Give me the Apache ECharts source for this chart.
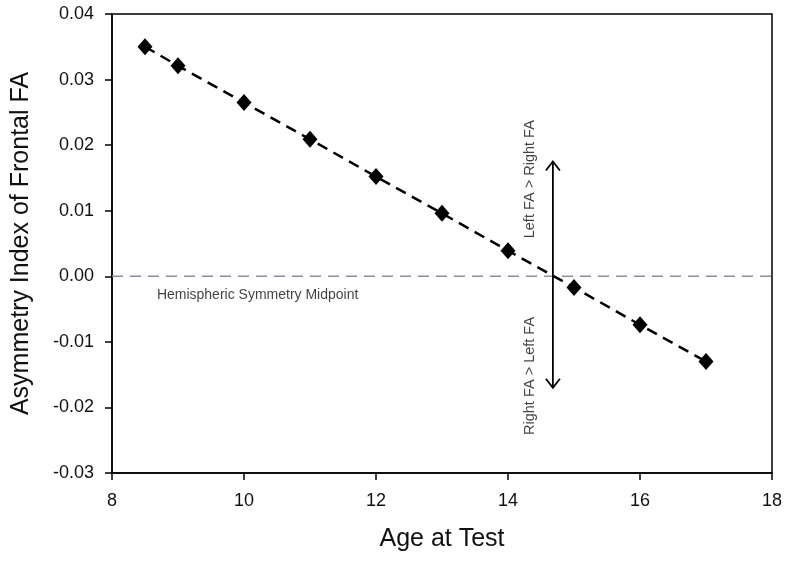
<!DOCTYPE html>
<html><head><meta charset="utf-8">
<script src="https://cdn.jsdelivr.net/npm/echarts@6/dist/echarts.min.js"></script>
<style>html,body{margin:0;padding:0;background:#fff}#c{width:787px;height:568px}</style>
</head><body><div id="c"></div>
<script>
var ages = [8.5, 9, 10, 11, 12, 13, 14, 15, 16, 17];
var asymmetry = [0.0350, 0.0321, 0.0265, 0.0209, 0.0152, 0.0096, 0.0039, -0.0017, -0.0074, -0.0130];
var arrowX = 14.68;
var arrowTop = 0.0175;
var arrowBottom = -0.0170;
var textLabels = [
  {x: 14.33, y: 0.0148, text: 'Left FA > Right FA'},
  {x: 14.33, y: -0.0152, text: 'Right FA > Left FA'}
];
var midText = {x: 8.68, y: -0.0028, text: 'Hemispheric Symmetry Midpoint'};

var chart = echarts.init(document.getElementById('c'));
var font = 'Arial, "Liberation Sans", sans-serif';
chart.setOption({
  animation: false,
  grid: {left: 112, right: 15, top: 14, bottom: 95, show: true, borderColor: '#000', borderWidth: 1.5},
  xAxis: {
    type: 'value', min: 8, max: 18, interval: 2,
    name: 'Age at Test', nameLocation: 'middle', nameGap: 54,
    nameTextStyle: {fontSize: 25, color: '#111', fontFamily: font},
    axisLine: {show: true, onZero: false, lineStyle: {color: '#000', width: 1.5}},
    axisTick: {show: true, length: 7, lineStyle: {color: '#000', width: 1.5}},
    axisLabel: {fontSize: 18, color: '#111', fontFamily: font, margin: 19},
    splitLine: {show: false}
  },
  yAxis: {
    type: 'value', min: -0.03, max: 0.04, interval: 0.01,
    name: 'Asymmetry Index of Frontal FA', nameLocation: 'middle', nameGap: 78,
    nameTextStyle: {fontSize: 25, color: '#111', fontFamily: font},
    axisLine: {show: true, lineStyle: {color: '#000', width: 1.5}},
    axisTick: {show: true, length: 7, lineStyle: {color: '#000', width: 1.5}},
    axisLabel: {fontSize: 18, color: '#111', fontFamily: font, margin: 18,
      formatter: function (v) { return v.toFixed(2); }},
    splitLine: {show: false}
  },
  series: [
    {
      type: 'line', data: [[8, 0], [18, 0]], symbol: 'none', silent: true,
      lineStyle: {color: '#8a8ab4', width: 1.5, type: [11, 7]}, z: 1
    },
    {
      type: 'line', data: ages.map(function (a, i) { return [a, asymmetry[i]]; }),
      symbol: 'diamond', symbolSize: [15, 17], showAllSymbol: true,
      itemStyle: {color: '#000'},
      lineStyle: {color: '#000', width: 2.5, type: [11, 7]}, z: 3
    },
    {
      type: 'custom', silent: true, z: 4,
      data: [[arrowX, arrowTop, arrowBottom]],
      renderItem: function (params, api) {
        var p1 = api.coord([api.value(0), api.value(1)]);
        var p2 = api.coord([api.value(0), api.value(2)]);
        var s = {stroke: '#000', lineWidth: 1.8, fill: null};
        var w = 7, h = 9;
        return {type: 'group', children: [
          {type: 'line', shape: {x1: p1[0], y1: p1[1], x2: p2[0], y2: p2[1]}, style: s},
          {type: 'polyline', shape: {points: [[p1[0] - w, p1[1] + h], [p1[0], p1[1]], [p1[0] + w, p1[1] + h]]}, style: s},
          {type: 'polyline', shape: {points: [[p2[0] - w, p2[1] - h], [p2[0], p2[1]], [p2[0] + w, p2[1] - h]]}, style: s}
        ]};
      }
    },
    {
      type: 'scatter', symbolSize: 0, silent: true, z: 5,
      data: textLabels.map(function (t) { return {value: [t.x, t.y], name: t.text}; }),
      label: {show: true, position: 'inside', rotate: 90, formatter: '{b}',
        fontSize: 14.5, color: '#111', fontFamily: font}
    },
    {
      type: 'scatter', symbolSize: 0, silent: true, z: 5,
      data: [{value: [midText.x, midText.y], name: midText.text}],
      label: {show: true, position: 'right', distance: 0, formatter: '{b}',
        fontSize: 14, color: '#111', fontFamily: font}
    }
  ]
});
</script></body></html>
